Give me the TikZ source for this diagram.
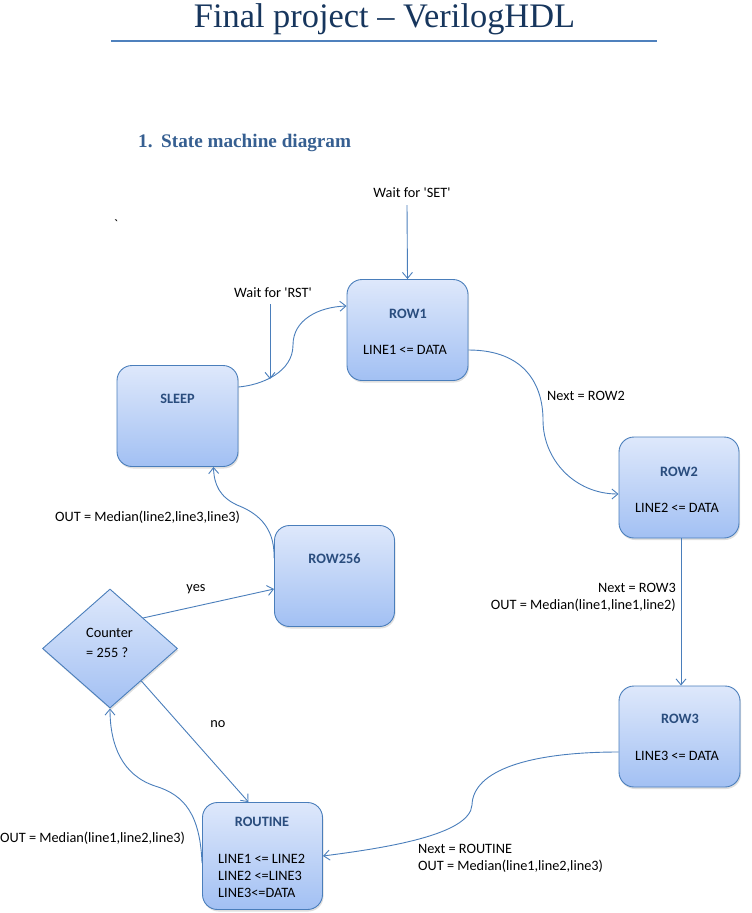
\documentclass[tikz,border=0pt]{standalone}
\usepackage{fontspec}
\setmainfont{Carlito}[Ligatures=TeXOff]
\newfontfamily\titlefont{Liberation Serif}
\usetikzlibrary{arrows.meta,shapes.geometric,shadows,calc}
\definecolor{edgec}{HTML}{4A7EBB}
\definecolor{topc}{HTML}{DEE8FB}
\definecolor{botc}{HTML}{A2C0F3}
\definecolor{titc}{HTML}{2A4D7E}
\definecolor{headc}{HTML}{17365D}
\definecolor{secc}{HTML}{365F91}
\definecolor{rulec}{HTML}{4F81BD}
\tikzset{
  statebox/.style={draw=edgec, line width=0.9pt, rounded corners=15pt,
    top color=topc, bottom color=botc, minimum width=120pt, minimum height=101pt,
    inner sep=0pt, drop shadow={shadow xshift=1pt, shadow yshift=-2pt, opacity=0.25}},
  decision/.style={diamond, draw=edgec, line width=0.9pt, top color=topc, bottom color=botc,
    minimum width=135pt, minimum height=119pt, inner sep=0pt, aspect=1.13,
    drop shadow={shadow xshift=1pt, shadow yshift=-2pt, opacity=0.25}},
  txt/.style={font=\fontsize{14.3}{17.5}\selectfont, inner sep=0pt, text=black},
  boxtitle/.style={font=\fontsize{14.3}{17.5}\selectfont\bfseries, inner sep=0pt, text=titc, anchor=base},
  conn/.style={draw=edgec, line width=0.9pt, -{Straight Barb[length=6pt,width=10pt]}},
}
\begin{document}
\begin{tikzpicture}[x=1pt,y=-1pt]
\useasboundingbox (0,0) rectangle (752,913);
% heading
\node[inner sep=0pt, anchor=base, text=headc, font=\titlefont\fontsize{34.4}{40}\selectfont] (title) at (384.5,27) {Final project – VerilogHDL};
\draw[rulec, line width=1.7pt] (111,41) -- (657,41);
\node[inner sep=0pt, anchor=base west, text=secc, font=\titlefont\fontsize{19.2}{22}\selectfont\bfseries] (section) at (138,147) {1.\hspace{0.45em}State machine diagram};
\node[txt, anchor=base] (tick) at (116,229) {`};

% states
\node[statebox, minimum width=121pt, minimum height=101pt] (row1) at (407.5,330) {};
\node[boxtitle] (row1t) at (408,318) {ROW1};
\node[txt, anchor=base] (row1c) at (405,354.5) {LINE1 <= DATA};

\node[statebox, minimum width=121pt] (sleep) at (177.5,416) {};
\node[boxtitle] (sleept) at (177.5,403.5) {SLEEP};

\node[statebox, minimum height=101pt] (row2) at (679,487.5) {};
\node[boxtitle] (row2t) at (679,476.5) {ROW2};
\node[txt, anchor=base] (row2c) at (677,512.5) {LINE2 <= DATA};

\node[statebox] (row256) at (334.5,576) {};
\node[boxtitle] (row256t) at (334.5,563.5) {ROW256};

\node[statebox, minimum width=121pt] (row3) at (679.5,736.5) {};
\node[boxtitle] (row3t) at (680,723.5) {ROW3};
\node[txt, anchor=base] (row3c) at (677,760.5) {LINE3 <= DATA};

\node[statebox, minimum height=107pt] (routine) at (262.5,856) {};
\node[boxtitle] (routinet) at (262,826.5) {ROUTINE};
\node[txt, anchor=base west] (routine1) at (218,863.5) {LINE1 <= LINE2};
\node[txt, anchor=base west] (routine2) at (218,880.5) {LINE2 <=LINE3};
\node[txt, anchor=base west] (routine3) at (218,897.5) {LINE3<=DATA};

\node[decision] (dia) at (110,648.5) {};
\node[txt, anchor=base west] (dia1) at (86,637.5) {Counter};
\node[txt, anchor=base west] (dia2) at (86,657.5) {= 255 ?};

% entry arrows
\coordinate (setstart) at (407,205);
\node[txt, anchor=base] (setlbl) at (412,197.5) {Wait for 'SET'};
\draw[conn] (setstart) -- (row1.north);

\coordinate (rststart) at (270,304);
\coordinate (rstend) at (270,379);
\node[txt, anchor=base] (rstlbl) at (273,297.5) {Wait for 'RST'};
\draw[conn] (rststart) -- (rstend);

% transitions
\draw[conn] ($(sleep.east)+(0,-29)$) .. controls (262,385) and (293,372) .. (293,345)
   .. controls (293,320) and (318,307) .. ($(row1.west)+(0,-24)$);

\draw[conn] ($(row1.east)+(0,20)$) .. controls (525,350) and (543,385) .. (543,420)
   .. controls (543,460) and (575,494) .. ($(row2.west)+(0,6.5)$);
\node[txt, anchor=base west] (n2) at (547,400.5) {Next = ROW2};

\draw[conn] (row2.south -| 681,0) -- (row3.north -| 681,0);
\node[txt, anchor=base east] (n3a) at (676,592.5) {Next = ROW3};
\node[txt, anchor=base east] (n3b) at (676,609.5) {OUT = Median(line1,line1,line2)};

\draw[conn] ($(row3.west)+(0,15.5)$) .. controls (530,752) and (473,770) .. (472,805)
   .. controls (470,835) and (385,848) .. ($(routine.east)+(0,0)$);
\node[txt, anchor=base west] (n4a) at (418,853.5) {Next = ROUTINE};
\node[txt, anchor=base west] (n4b) at (418,870.5) {OUT = Median(line1,line2,line3)};

\draw[conn] ($(routine.west)+(0,7)$) .. controls (200,815) and (185,795) .. (155,786)
   .. controls (122,775) and (110,745) .. (dia.south);
\node[txt, anchor=base west] (n5) at (0,842.5) {OUT = Median(line1,line2,line3)};

\draw[conn] ($(dia.south)!0.46!(dia.east)$) -- ($(routine.north)+(-14,0)$);
\node[txt, anchor=base] (nolbl) at (218,727.5) {no};

\draw[conn] ($(dia.north)!0.49!(dia.east)$) -- ($(row256.west)+(0,13)$);
\node[txt, anchor=base] (yeslbl) at (196,591.5) {yes};

\draw[conn] ($(row256.west)+(0,-18)$) .. controls (275,525) and (255,512) .. (237,505)
   .. controls (220,497) and (214,485) .. ($(sleep.south)+(36,0)$);
\node[txt, anchor=base west] (n6) at (55,521.5) {OUT = Median(line2,line3,line3)};
\end{tikzpicture}
\end{document}
